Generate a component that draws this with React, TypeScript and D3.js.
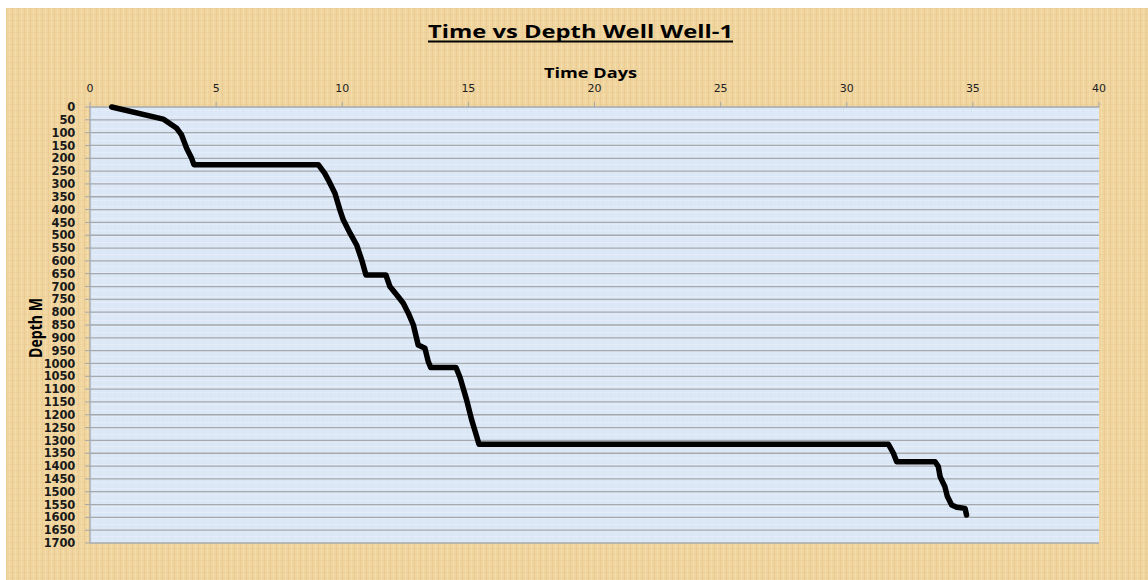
import React from "react";
import * as d3 from "d3";

const timeDays = [0.86, 2.9, 3.44, 3.63, 3.83, 4.03, 4.12, 9.05, 9.3, 9.45, 9.71, 9.91, 10.04, 10.31, 10.57, 10.77, 10.94, 11.73, 11.89, 12.22, 12.42, 12.62, 12.82, 13.01, 13.28, 13.41, 13.51, 14.51, 14.67, 14.93, 15.13, 15.33, 15.42, 31.65, 31.85, 31.98, 33.5, 33.63, 33.7, 33.89, 33.99, 34.16, 34.36, 34.69, 34.75];
const depthM = [0, 47, 83, 109, 161, 200, 225, 225, 258, 285, 336, 402, 440, 492, 538, 596, 655, 655, 700, 740, 765, 804, 850, 928, 941, 993, 1016, 1016, 1055, 1142, 1220, 1285, 1315, 1315, 1350, 1383, 1383, 1402, 1441, 1480, 1519, 1552, 1561, 1565, 1591];
const xTicks = [0, 5, 10, 15, 20, 25, 30, 35, 40];
const yTicks = d3.range(0, 1701, 50);
const chartTitle = "Time vs Depth Well Well-1";
const xTitle = "Time Days";
const yTitle = "Depth M";

const W = 1148, H = 580;
const plot = { left: 90, right: 1099, top: 107, bottom: 543 };

export default function App() {
  const x = d3.scaleLinear().domain([0, 40]).range([plot.left, plot.right]);
  const y = d3.scaleLinear().domain([0, 1700]).range([plot.top, plot.bottom]);
  const pts = timeDays.map((t, i) => [t, depthM[i]] as [number, number]);
  const line = d3.line<[number, number]>().x(d => x(d[0])).y(d => y(d[1]));
  return (
    <svg width={W} height={H} style={{ position: "absolute", left: 0, top: 0, display: "block" }}>
      <defs>
        <pattern id="parch" width="6" height="6" patternUnits="userSpaceOnUse">
          <rect width="6" height="6" fill="#F0D59F" />
          <rect x="0" y="0" width="1" height="6" fill="#E6C78C" opacity="0.6" />
          <rect x="3" y="0" width="1" height="6" fill="#F6E0B2" opacity="0.7" />
          <rect x="0" y="2" width="6" height="1" fill="#E8CB92" opacity="0.5" />
        </pattern>
        <pattern id="bluetex" width="8" height="6" patternUnits="userSpaceOnUse">
          <rect width="8" height="6" fill="#DCE8F6" />
          <rect x="0" y="2" width="8" height="1" fill="#E6EFFA" opacity="0.8" />
          <rect x="3" y="0" width="1" height="6" fill="#D3E2F3" opacity="0.5" />
        </pattern>
      </defs>
      <rect x={0} y={0} width={W} height={H} fill="#ffffff" />
      <rect x={6} y={8} width={W - 6} height={H - 8} fill="url(#parch)" />
      <rect x={plot.left} y={plot.top} width={plot.right - plot.left} height={plot.bottom - plot.top} fill="url(#bluetex)" />
      {yTicks.map(v => (
        <g key={"g" + v}>
          <line x1={plot.left} x2={plot.right} y1={y(v)} y2={y(v)} stroke="#A5A8AC" strokeWidth={1.3} />
          <line x1={plot.left - 5} x2={plot.left} y1={y(v)} y2={y(v)} stroke="#A5A8AC" strokeWidth={1} />
          <text x={plot.left - 15} y={y(v)} dy="0.36em" textAnchor="end" fontFamily="DejaVu Sans" fontSize={11.5} fill="#1a1a1a" fontWeight={600} style={{ letterSpacing: "-0.2px" }}>{v}</text>
        </g>
      ))}
      <line x1={plot.left} x2={plot.left} y1={plot.top} y2={plot.bottom} stroke="#A5A8AC" strokeWidth={1.3} />
      {xTicks.map(v => (
        <g key={"x" + v}>
          <line x1={x(v)} x2={x(v)} y1={plot.top - 5} y2={plot.top} stroke="#A5A8AC" strokeWidth={1} />
          <text x={x(v)} y={92} textAnchor="middle" fontFamily="DejaVu Sans" fontSize={11} fill="#222">{v}</text>
        </g>
      ))}
      <path d={line(pts) || ""} fill="none" stroke="#000" strokeWidth={5.5} strokeLinejoin="round" strokeLinecap="round" />
      <text x={428} y={38} fontFamily="Open Sans" fontWeight={700} fontSize={18.5} fill="#000" textLength={305} lengthAdjust="spacingAndGlyphs">{chartTitle}</text>
      <line x1={428} x2={733} y1={41.5} y2={41.5} stroke="#000" strokeWidth={1.8} />
      <text x={544} y={78} fontFamily="Open Sans" fontWeight={700} fontSize={15} fill="#000" textLength={93} lengthAdjust="spacingAndGlyphs">{xTitle}</text>
      <text transform={`translate(${42},${358}) rotate(-90)`} fontFamily="Open Sans" fontWeight={700} fontSize={17} fill="#000" textLength={60} lengthAdjust="spacingAndGlyphs">{yTitle}</text>
    </svg>
  );
}
